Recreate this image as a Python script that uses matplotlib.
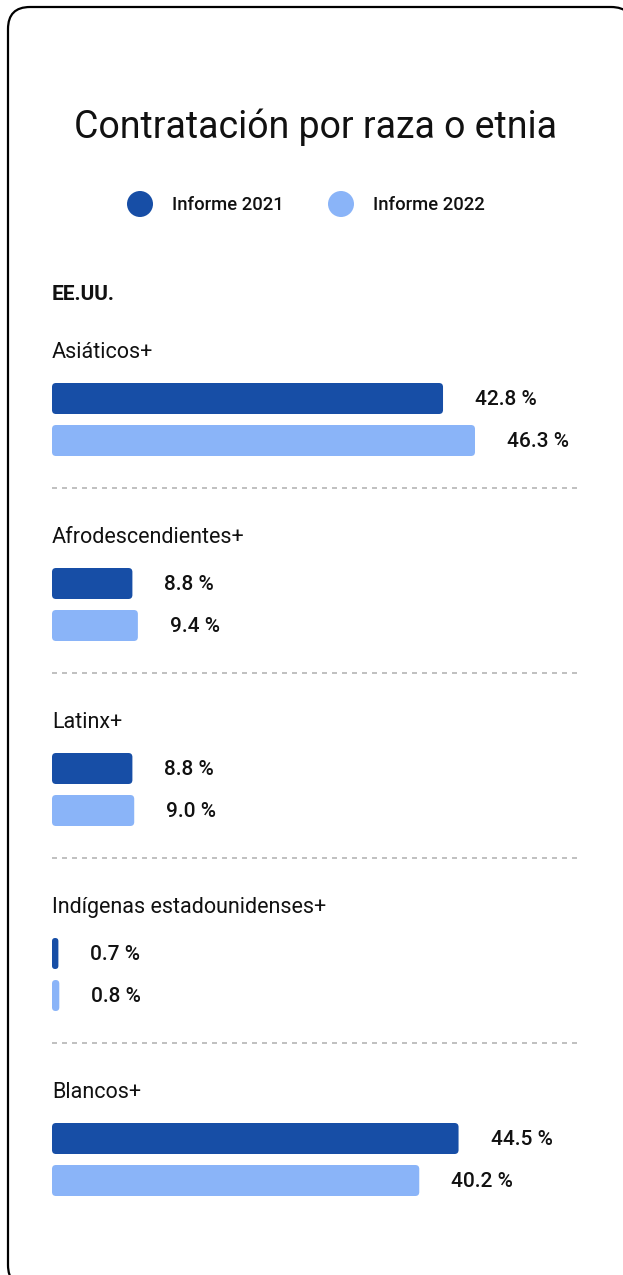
import matplotlib
matplotlib.use("Agg")
import matplotlib.pyplot as plt
from matplotlib.patches import FancyBboxPatch, Ellipse
import numpy as np

plt.rcParams['font.family'] = ['Roboto', 'DejaVu Sans']

title = "Contratación por raza o etnia"
region = "EE.UU."
series_names = ["Informe 2021", "Informe 2022"]
categories = ["Asiáticos+", "Afrodescendientes+", "Latinx+",
              "Indígenas estadounidenses+", "Blancos+"]
values_2021 = [42.8, 8.8, 8.8, 0.7, 44.5]
values_2022 = [46.3, 9.4, 9.0, 0.8, 40.2]
value_labels_2021 = ["42.8 %", "8.8 %", "8.8 %", "0.7 %", "44.5 %"]
value_labels_2022 = ["46.3 %", "9.4 %", "9.0 %", "0.8 %", "40.2 %"]

DARK = "#174ea6"
LIGHT = "#8ab4f8"
W, H = 623, 1275

fig = plt.figure(figsize=(W / 100, H / 100), dpi=100)
bg = fig.add_axes([0, 0, 1, 1])
bg.set_xlim(0, W)
bg.set_ylim(H, 0)
bg.axis('off')

# card border
card = FancyBboxPatch((8, 7), 625, 1280, boxstyle="round,pad=0,rounding_size=22",
                      fc='white', ec='black', lw=1.6)
bg.add_patch(card)

bg.text(315, 127, title, ha='center', va='center', fontsize=27, color='#111111')

# legend
for cx, tx, name, col in [(140, 172, series_names[0], DARK), (341, 373, series_names[1], LIGHT)]:
    bg.add_patch(Ellipse((cx, 204), 26, 26, fc=col, ec='none'))
    bg.text(tx, 205, name, ha='left', va='center', fontsize=13.3, fontweight='medium',
            color='#111111')

bg.text(52, 294, region, ha='left', va='center', fontsize=15, fontweight='bold', color='#111111')

# bar axes: x in percent, y in pixels
px_per_pct = 9.136
x0 = 52
ax = fig.add_axes([0, 0, 1, 1])
ax.set_xlim(-x0 / px_per_pct, (W - x0) / px_per_pct)
ax.set_ylim(H, 0)
ax.axis('off')
ax.patch.set_alpha(0)

first_center = 398.5
spacing = 185
bar_h = 31
gap = 42
rad_px = 4

for i, cat in enumerate(categories):
    yc = first_center + i * spacing
    bg.text(52, yc - 46, cat, ha='left', va='center', fontsize=15.5, color='#111111')
    for j, (vals, labs, col) in enumerate([(values_2021, value_labels_2021, DARK),
                                           (values_2022, value_labels_2022, LIGHT)]):
        y = yc + j * gap
        v = vals[i]
        r = min(rad_px / px_per_pct, v / 2)
        p = FancyBboxPatch((0, y - bar_h / 2), v, bar_h,
                           boxstyle=f"round,pad=0,rounding_size={r}",
                           mutation_aspect=px_per_pct, fc=col, ec='none')
        ax.add_patch(p)
        ax.text(v + 32 / px_per_pct, y + 1, labs[i], ha='left', va='center',
                fontsize=15, fontweight='medium', color='#111111')
    if i < len(categories) - 1:
        bg.plot([52, 581], [yc + 89.5] * 2, color='#b5b5b5', lw=1.2,
                linestyle=(0, (3, 3)))

fig.savefig("out.png", dpi=100)
